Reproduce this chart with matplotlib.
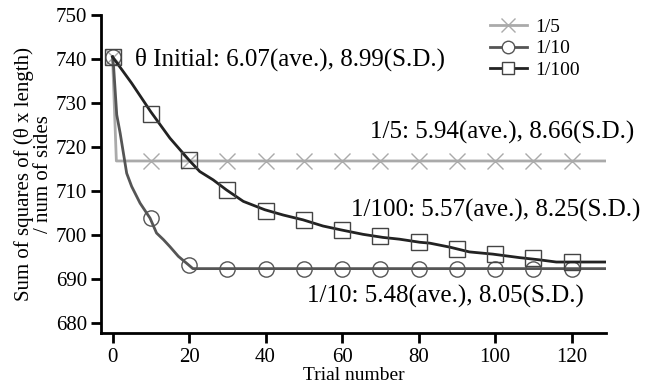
import matplotlib
matplotlib.use('Agg')
import matplotlib.pyplot as plt

plt.rcParams['font.family'] = ['Liberation Serif', 'DejaVu Serif']

# 1/5 : drops at once, then flat
x5 = [0, 1.0, 129]
y5 = [740.5, 716.8, 716.8]
mx5 = [0, 10, 20, 30, 40, 50, 60, 70, 80, 90, 100, 110, 120]
my5 = [740.5] + [716.8] * 12

# 1/10
x10 = [0, 0.3, 1.1, 2.0, 3.7, 5.0, 7.2, 9.8, 11.5, 13.3, 15.0, 17.2, 19.8, 21.0, 129]
y10 = [740.5, 738.0, 727.3, 723.1, 714.0, 711.0, 707.2, 703.8, 700.4, 698.9, 697.3, 695.1, 693.2, 692.3, 692.3]
mx10 = [0, 10, 20, 30, 40, 50, 60, 70, 80, 90, 100, 110, 120]
my10 = [740.5, 703.8, 693.1, 692.3, 692.3, 692.3, 692.3, 692.3, 692.3, 692.3, 692.3, 692.3, 692.3]

# 1/100
x100 = [0, 5, 10, 15, 20, 22.8, 26.3, 29.8, 34.2, 39.8, 44.6, 49.8, 55.0, 59.8, 65.5,
        70.7, 75.0, 80.3, 82.9, 88.1, 93.3, 99.4, 106.4, 111.6, 116.0, 129]
y100 = [740.5, 734.5, 728.0, 722.0, 717.0, 714.4, 712.5, 710.2, 707.6, 705.7, 704.5, 703.4, 702.0, 701.1, 700.1,
        699.4, 699.0, 698.3, 698.1, 697.2, 696.1, 695.6, 694.8, 694.3, 693.8, 693.8]
mx100 = [0, 10, 20, 30, 40, 50, 60, 70, 80, 90, 100, 110, 120]
my100 = [740.5, 727.6, 717.1, 710.2, 705.5, 703.3, 701.1, 699.8, 698.3, 696.8, 695.6, 694.7, 693.9]

c5 = '#aaaaaa'
c10 = '#555555'
c100 = '#222222'

fig = plt.figure(figsize=(6.58, 3.87), dpi=100)
ax = fig.add_axes([0.153, 0.139, 0.768, 0.822])

ax.plot(x5, y5, color=c5, lw=2)
ax.plot(mx5, my5, ls='none', marker='x', ms=11, mew=1.0, color=c5)
ax.plot(x10, y10, color=c10, lw=2)
ax.plot(mx10, my10, ls='none', marker='o', ms=11, mew=1.0, mfc='none', mec=c10)
ax.plot(x100, y100, color=c100, lw=2)
ax.plot(mx100, my100, ls='none', marker='s', ms=11, mew=1.0, mfc='none', mec='#444444')

# legend handles
h5, = ax.plot([], [], color=c5, lw=2, marker='x', ms=10, mew=1.0)
h10, = ax.plot([], [], color=c10, lw=2, marker='o', ms=9, mew=1.0, mfc='white', mec=c10)
h100, = ax.plot([], [], color=c100, lw=2, marker='s', ms=9, mew=1.0, mfc='white', mec='#444444')
ax.legend([h5, h10, h100], ['1/5', '1/10', '1/100'], loc='upper left',
          bbox_to_anchor=(0.735, 1.045), frameon=False, fontsize=14,
          handlelength=1.9, handletextpad=0.45, labelspacing=0.2)

fs = 18
ax.text(5.9, 740, 'θ Initial: 6.07(ave.), 8.99(S.D.)', fontsize=fs, va='center', ha='left')
ax.text(67.2, 723.2, '1/5: 5.94(ave.), 8.66(S.D.)', fontsize=fs, va='center', ha='left')
ax.text(62.4, 705.6, '1/100: 5.57(ave.), 8.25(S.D.)', fontsize=fs, va='center', ha='left')
ax.text(50.8, 686.0, '1/10: 5.48(ave.), 8.05(S.D.)', fontsize=fs, va='center', ha='left')

ax.set_xlim(-3.1, 129)
ax.set_ylim(677.6, 750)
ax.set_xticks([0, 20, 40, 60, 80, 100, 120])
ax.set_yticks([680, 690, 700, 710, 720, 730, 740, 750])
ax.tick_params(labelsize=15, width=2, length=7, direction='out', pad=3)
ax.tick_params(axis='x', pad=4)
for s in ['top', 'right']:
    ax.spines[s].set_visible(False)
for s in ['left', 'bottom']:
    ax.spines[s].set_linewidth(2)

ax.set_xlabel('Trial number', fontsize=14, labelpad=0)
ax.set_ylabel('Sum of squares of (θ x length)\n/ num of sides', fontsize=15,
              linespacing=1.0, labelpad=2)

fig.savefig('out.png', dpi=100)
